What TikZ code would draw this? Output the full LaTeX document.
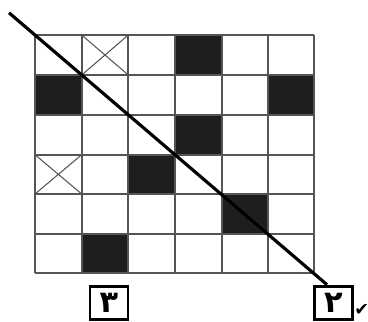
\documentclass[tikz,border=0pt]{standalone}
\usepackage{fontspec}
\newfontfamily\arabicfont[Script=Arabic]{DejaVu Sans}
\newfontfamily\symfont{DejaVu Sans}
\definecolor{GridLine}{HTML}{555555}
\definecolor{CellDark}{HTML}{1E1E1E}

\begin{document}
\begin{tikzpicture}[x=0.02cm,y=-0.02cm]
\tikzset{
  digitbox/.style={draw=black,line width=1.2pt,minimum width=0.76cm,minimum height=0.66cm,inner sep=0pt,font=\arabicfont\LARGE\bfseries},
  cellx/.style={draw=GridLine,line width=.6pt}
}
\path[use as bounding box] (0,0) rectangle (368,321);
% shaded cells
\fill[CellDark] (175,35) rectangle (221.7,75);
\fill[CellDark] (35,75) rectangle (81.7,114.7);
\fill[CellDark] (267.7,75) rectangle (314,114.7);
\fill[CellDark] (175,114.7) rectangle (221.7,154.7);
\fill[CellDark] (128.3,154.7) rectangle (175,194);
\fill[CellDark] (221.7,194) rectangle (267.7,234);
\fill[CellDark] (81.7,234) rectangle (128.3,273);
% crossed cells
\draw[cellx] (81.7,35) -- (128.3,75) (81.7,75) -- (128.3,35);
\draw[cellx] (35,154.7) -- (81.7,194) (35,194) -- (81.7,154.7);
% grid
\foreach \gx in {35,81.7,128.3,175,221.7,267.7,314}
  \draw[GridLine,line width=1.1pt] (\gx,35) -- (\gx,273);
\foreach \gy in {35,75,114.7,154.7,194,234,273}
  \draw[GridLine,line width=1.1pt] (35,\gy) -- (314,\gy);
% diagonal
\coordinate (diagA) at (9,12.8);
\coordinate (diagB) at (327,284.7);
\draw[black,line width=1.8pt] (diagA) -- (diagB);
% answers
\node[digitbox] (three) at (109,303) {۳};
\node[digitbox] (two) at (333.5,303) {۲};
\node[anchor=west,inner sep=0pt,font=\symfont\normalsize] (tick) at (354,310) {✔};
\end{tikzpicture}
\end{document}
